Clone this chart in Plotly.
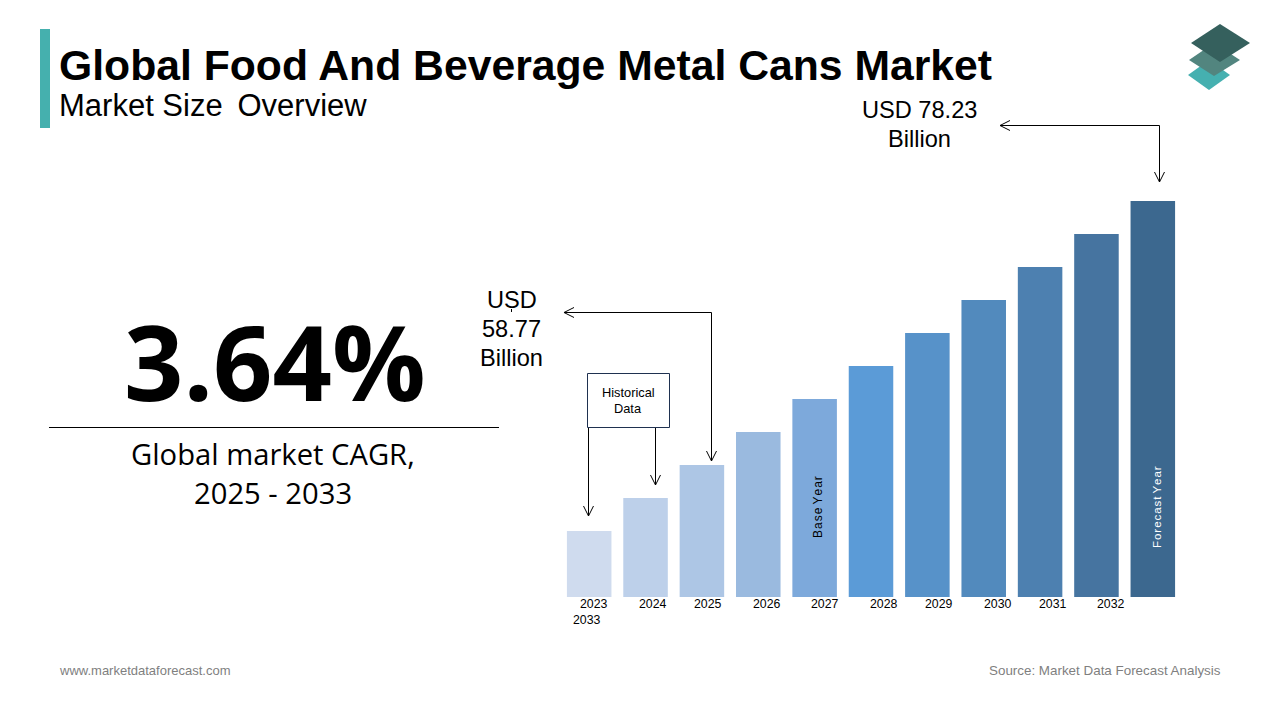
import plotly.graph_objects as go

W, H = 1280, 720

# ---- data ----
years = ["2023", "2024", "2025", "2026", "2027", "2028", "2029", "2030", "2031", "2032", "2033"]
bar_values = [2, 3, 4, 5, 6, 7, 8, 9, 10, 11, 12]  # schematic staircase as drawn in the picture
bar_colors = ["#CFDBEE", "#BDD0EA", "#ADC6E5", "#9ABADF", "#7DA9DB", "#5B9BD7",
              "#5792C9", "#528ABD", "#4D80B0", "#4674A0", "#3C688F"]
tick_label_x = [594, 653, 708, 767, 825, 884, 939, 998, 1053, 1111, 587]
tick_label_y = [604, 604, 604, 604, 604, 604, 604, 604, 604, 604, 619.5]

TEAL = "#45B0AE"
SANS = "Liberation Sans"
HUMAN = "Open Sans"


def px(x):
    return x / W


def py(y):
    return 1 - y / H


fig = go.Figure(go.Bar(x=years, y=bar_values, marker=dict(color=bar_colors, line_width=0),
                       width=0.79, hoverinfo="skip"))

shapes = []


def rect(x0, y0, x1, y1, fill, line=None, lw=0):
    shapes.append(dict(type="rect", xref="paper", yref="paper", x0=px(x0), x1=px(x1), y0=py(y0), y1=py(y1),
                       fillcolor=fill, line=dict(color=line or fill, width=lw)))


def poly(points, fill=None, line=None, lw=1):
    d = "M " + " L ".join(f"{px(x):.5f} {py(y):.5f}" for x, y in points)
    if fill:
        d += " Z"
    shapes.append(dict(type="path", xref="paper", yref="paper", path=d,
                       fillcolor=fill if fill else "rgba(0,0,0,0)",
                       line=dict(color=line or "rgba(0,0,0,0)", width=lw)))


# accent bar and divider
rect(40, 29, 50, 128, TEAL)
poly([(49, 427.5), (499, 427.5)], line="#000000", lw=1)

# logo
poly([(1188, 75), (1209, 60), (1230, 75), (1209, 90)], fill="#45B0B0")
poly([(1189, 60), (1214, 43), (1240, 60), (1214, 76)], fill="#52857F")
poly([(1191, 43), (1220, 24), (1250, 43), (1220, 62)], fill="#35605D")

# connector lines with open arrow heads
poly([(564, 312.5), (711.5, 312.5), (711.5, 461)], line="#000000")
poly([(574, 307.5), (564, 312.5), (574, 317.5)], line="#000000")
poly([(706.5, 451), (711.5, 461), (716.5, 451)], line="#000000")

poly([(1000, 125.5), (1159.5, 125.5), (1159.5, 182)], line="#000000")
poly([(1010, 120.5), (1000, 125.5), (1010, 130.5)], line="#000000")
poly([(1154.5, 172), (1159.5, 182), (1164.5, 172)], line="#000000")

poly([(588.5, 427), (588.5, 516)], line="#000000")
poly([(583.5, 506), (588.5, 516), (593.5, 506)], line="#000000")
poly([(655.5, 427), (655.5, 485)], line="#000000")
poly([(650.5, 475), (655.5, 485), (660.5, 475)], line="#000000")

poly([(511.5, 309), (511.5, 312)], line="#000000")

rect(587.5, 373.5, 669.5, 427.5, "#FFFFFF", line="#1F3150", lw=1)

annotations = []


def text(x, y, s, size, color="#000000", family=SANS, anchor="center", bold=False, angle=0):
    if bold:
        s = f"<b>{s}</b>"
    annotations.append(dict(xref="paper", yref="paper", x=px(x), y=py(y), text=s, showarrow=False,
                            xanchor=anchor, yanchor="middle", textangle=angle, borderpad=0, borderwidth=0,
                            font=dict(family=family, size=size, color=color)))


text(59, 65, "Global Food And Beverage Metal Cans Market", 42.7, anchor="left", bold=True)
text(59, 105, "Market Size \u2009Overview", 31, anchor="left")
text(919, 110, "USD 78.23", 23.6)
text(919, 139, "Billion", 23.6)
text(511.5, 300, "USD", 23.6)
text(511.5, 329, "58.77", 23.6)
text(511.5, 358, "Billion", 23.6)
text(275, 360, "3.64%", 104, family=HUMAN, bold=True)
text(272.5, 454, "Global market CAGR,", 29.2, family=HUMAN)
text(272.5, 493, "2025 - 2033", 29.2, family=HUMAN)
text(628, 392.5, "Historical", 12.8)
text(628, 408, "Data", 12.8)
text(818, 507, "B a s e  Y e a r".replace(" ", "\u200a").replace("\u200a\u200a", " "), 12, angle=-90)
text(1157, 507, "F o r e c a s t  Y e a r".replace(" ", "\u200a").replace("\u200a\u200a", " "), 11.5, color="#FFFFFF", angle=-90)
text(59, 670.5, "www.marketdataforecast.com", 13, color="#7F7F7F", anchor="left")
text(1221, 670.5, "Source: Market Data Forecast Analysis", 13.4, color="#7F7F7F", anchor="right")

for label, lx, ly in zip(years, tick_label_x, tick_label_y):
    text(lx, ly, label, 12.3)

fig.update_layout(
    width=W, height=H, autosize=False,
    margin=dict(l=0, r=0, t=0, b=0),
    paper_bgcolor="#FFFFFF", plot_bgcolor="rgba(0,0,0,0)",
    showlegend=False,
    shapes=shapes, annotations=annotations,
    xaxis=dict(domain=[px(561), px(1181)], type="category", categoryorder="array", categoryarray=years,
               range=[-0.5, 10.5], showticklabels=False, showgrid=False, zeroline=False, showline=False, ticks=""),
    yaxis=dict(domain=[py(597), py(201)], range=[0, 12], showticklabels=False, showgrid=False,
               zeroline=False, showline=False, ticks=""),
)

fig.write_html("out.html", config=dict(displayModeBar=False),
               post_script="document.body.style.margin='0';document.documentElement.style.overflow='hidden';")
